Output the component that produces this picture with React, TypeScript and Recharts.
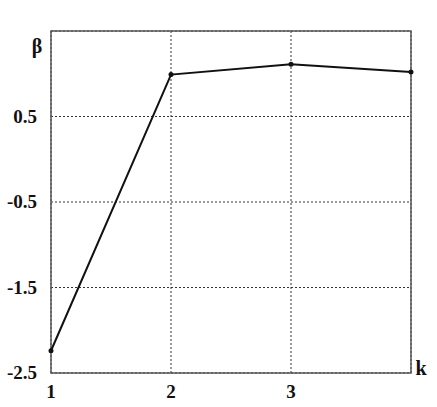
import React from 'react';
import { LineChart, Line, XAxis, YAxis, CartesianGrid, ReferenceArea } from 'recharts';

const kValues = [1, 2, 3, 4];
const betaValues = [-2.24, 0.99, 1.11, 1.02];
const xTicks = [1, 2, 3, 4];
const yTicks = [-2.5, -1.5, -0.5, 0.5];
const xAxisName = 'k';
const yAxisName = 'β';

const data = kValues.map((k, i) => ({ k, beta: betaValues[i] }));

const FONT = '"Liberation Serif", "DejaVu Serif", serif';

const XTick = (props: any) => {
  const { x, y, payload } = props;
  if (payload.value === 4) {
    return (
      <text x={x + 10} y={y - 6} textAnchor="middle" fontFamily={FONT} fontWeight="bold" fontSize={20} fill="#111">
        {xAxisName}
      </text>
    );
  }
  return (
    <text x={x} y={y + 17} textAnchor="middle" fontFamily={FONT} fontWeight="bold" fontSize={19} fill="#111">
      {payload.value}
    </text>
  );
};

const YTick = (props: any) => {
  const { x, y, payload } = props;
  return (
    <text x={x - 6} y={y + 6} textAnchor="end" fontFamily={FONT} fontWeight="bold" fontSize={19} fill="#111">
      {payload.value}
    </text>
  );
};

const YLabel = (props: any) => {
  const vb = props.viewBox || {};
  return (
    <text x={vb.x + vb.width - 14} y={vb.y + 22} textAnchor="middle" fontFamily={FONT} fontWeight="bold" fontSize={20} fill="#111">
      {yAxisName}
    </text>
  );
};

export default function App() {
  return (
    <div style={{ position: 'absolute', left: 0, top: 0, background: '#fff' }}>
      <LineChart width={437} height={407} data={data} margin={{ top: 31, right: 26, bottom: 0, left: 0 }}>
        <CartesianGrid stroke="#333" strokeDasharray="2 2" strokeWidth={1} />
        <XAxis
          dataKey="k"
          type="number"
          domain={[1, 4]}
          ticks={xTicks}
          height={34}
          tickLine={false}
          axisLine={false}
          tick={<XTick />}
          interval={0}
        />
        <YAxis
          type="number"
          domain={[-2.5, 1.5]}
          ticks={yTicks}
          width={51}
          tickLine={false}
          axisLine={false}
          tick={<YTick />}
          interval={0}
          label={<YLabel />}
        />
        <ReferenceArea x1={1} x2={4} y1={-2.5} y2={1.5} fill="none" stroke="#555" strokeWidth={1.5} ifOverflow="visible" />
        <Line
          type="linear"
          dataKey="beta"
          stroke="#111"
          strokeWidth={2}
          dot={{ r: 1.5, fill: '#111', stroke: '#111' }}
          isAnimationActive={false}
        />
      </LineChart>
    </div>
  );
}
